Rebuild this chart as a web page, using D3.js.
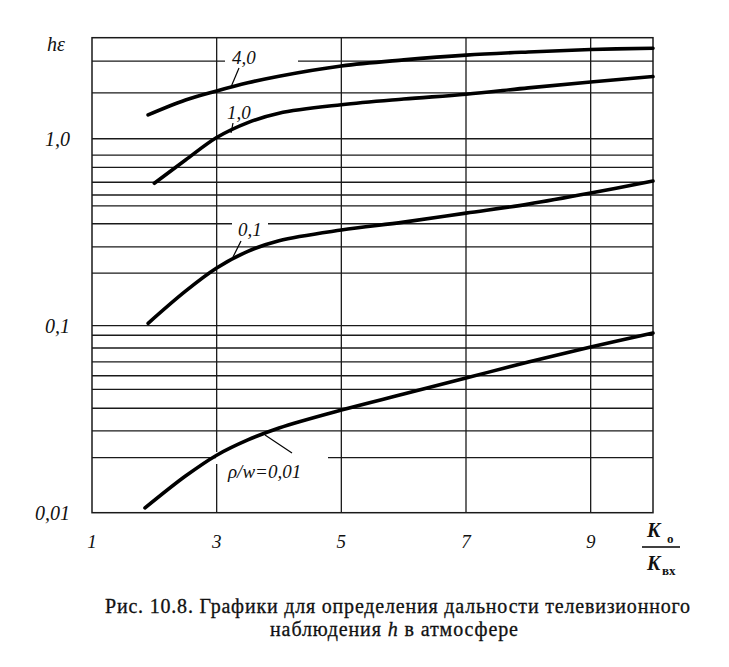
<!DOCTYPE html>
<html><head><meta charset="utf-8">
<script src="https://cdn.jsdelivr.net/npm/d3@7"></script>
<style>
body{margin:0;background:#fff;}
svg text{font-family:"Liberation Serif","Times New Roman";}
</style></head>
<body><svg id="c" width="729" height="667"></svg>
<script>
// ---- data ----
const xTicks = [1, 3, 5, 7, 9];
const xGrid = [3, 5, 7, 9];
const yTickVals = [1.0, 0.1, 0.01];
const yTickLabels = ["1,0", "0,1", "0,01"];
const yGrid = [0.0197, 0.0274, 0.0362, 0.0457, 0.054, 0.064, 0.076, 0.0889, 0.1,
               0.191, 0.264, 0.351, 0.437, 0.5, 0.585, 0.703, 0.818, 1.0, 1.76, 2.6];

const xs40 = [1.90, 2.5, 3, 3.5, 4, 5, 6, 7, 8, 9, 10];
const ys40 = [1.34, 1.61, 1.80, 1.99, 2.16, 2.45, 2.64, 2.80, 2.91, 3.00, 3.05];
const xs10 = [2.0, 2.5, 3, 3.5, 4, 5, 6, 7, 8, 9, 10];
const ys10 = [0.578, 0.769, 1.015, 1.22, 1.37, 1.52, 1.63, 1.73, 1.87, 2.01, 2.15];
const xs01 = [1.90, 2.5, 3, 3.5, 4, 5, 6, 7, 8, 9, 10];
const ys01 = [0.103, 0.153, 0.2035, 0.25, 0.285, 0.325, 0.358, 0.40, 0.447, 0.512, 0.594];
const xs001 = [1.85, 2.5, 3, 3.5, 4, 5, 6, 7, 8, 9, 10];
const ys001 = [0.0106, 0.0157, 0.0203, 0.0245, 0.0284, 0.0354, 0.0431, 0.0525, 0.064, 0.0769, 0.0914];

const curveNames = ["4,0", "1,0", "0,1", "ρ/w=0,01"];

// ---- drawing ----
const svg = d3.select("#c");
const L = 92, R = 653, T = 37.7, B = 512.7;
const x = d3.scaleLinear().domain([1, 10]).range([L, R]);
const y = d3.scaleLog().domain([0.01, 3.47]).range([B, T]);

const grid = svg.append("g").attr("stroke", "#1a1a1a").attr("stroke-width", 1.3);
yGrid.forEach(v => grid.append("line").attr("x1", L).attr("x2", R).attr("y1", y(v)).attr("y2", y(v)));
xGrid.forEach(v => grid.append("line").attr("x1", x(v)).attr("x2", x(v)).attr("y1", T).attr("y2", B));
svg.append("rect").attr("x", L).attr("y", T).attr("width", R - L).attr("height", B - T)
  .attr("fill", "none").attr("stroke", "#1a1a1a").attr("stroke-width", 1.5);

// label gaps in grid
const gaps = [[225, 53, 73, 14], [232, 217, 36, 12], [216, 452, 112, 12]];
gaps.forEach(g => svg.append("rect").attr("x", g[0]).attr("y", g[1]).attr("width", g[2]).attr("height", g[3]).attr("fill", "#fff"));

const line = d3.line().x(d => x(d[0])).y(d => y(d[1])).curve(d3.curveCatmullRom.alpha(0.5));
const series = [[xs40, ys40], [xs10, ys10], [xs01, ys01], [xs001, ys001]];
series.forEach(s => {
  svg.append("path").datum(s[0].map((v, i) => [v, s[1][i]]))
    .attr("d", line).attr("fill", "none").attr("stroke", "#000")
    .attr("stroke-width", 3.6).attr("stroke-linecap", "round");
});

// curve labels and leaders
const lab = svg.append("g").attr("font-style", "italic").attr("font-size", 19).attr("fill", "#111");
const labPos = [[232, 64], [227, 119], [238, 236], [228, 478]];
curveNames.forEach((n, i) => lab.append("text").attr("x", labPos[i][0]).attr("y", labPos[i][1]).text(n));
const leaders = [[239, 68, 231, 87], [233, 123, 231, 133], [241, 241, 233, 257], [265, 435, 292, 453]];
leaders.forEach(l => svg.append("line").attr("x1", l[0]).attr("y1", l[1]).attr("x2", l[2]).attr("y2", l[3])
  .attr("stroke", "#000").attr("stroke-width", 1.2));

// y tick labels
const yl = svg.append("g").attr("font-style", "italic").attr("font-size", 20).attr("text-anchor", "end").attr("fill", "#111");
yTickVals.forEach((v, i) => yl.append("text").attr("x", 70).attr("y", y(v) + 7).text(yTickLabels[i]));
svg.append("text").attr("x", 47).attr("y", 51).attr("font-style", "italic").attr("font-size", 20).attr("fill", "#111").text("hε");

// x tick labels
const xl = svg.append("g").attr("font-style", "italic").attr("font-size", 19).attr("text-anchor", "middle").attr("fill", "#111");
xTicks.forEach(v => xl.append("text").attr("x", x(v)).attr("y", 548).text(v));

// x axis title fraction
const ft = svg.append("g").attr("font-weight", "bold").attr("fill", "#111");
ft.append("text").attr("x", 647).attr("y", 537).attr("font-style", "italic").attr("font-size", 20).text("K");
ft.append("text").attr("x", 667).attr("y", 543).attr("font-size", 13).text("о");
svg.append("line").attr("x1", 642).attr("x2", 680).attr("y1", 547).attr("y2", 547).attr("stroke", "#000").attr("stroke-width", 1.3);
ft.append("text").attr("x", 647).attr("y", 570).attr("font-style", "italic").attr("font-size", 20).text("K");
ft.append("text").attr("x", 662).attr("y", 575).attr("font-size", 13).text("вх");

// caption
const cap = svg.append("g").attr("font-size", 20).attr("fill", "#111").attr("stroke", "#111").attr("stroke-width", 0.3);
cap.append("text").attr("x", 105).attr("y", 613)
  .attr("textLength", 585).attr("lengthAdjust", "spacing")
  .text("Рис. 10.8. Графики для определения дальности телевизионного");
const c2 = cap.append("text").attr("x", 270).attr("y", 636).attr("textLength", 248).attr("lengthAdjust", "spacing");
c2.append("tspan").text("наблюдения  ");
c2.append("tspan").attr("font-style", "italic").text("h");
c2.append("tspan").text("  в атмосфере");
</script></body></html>
